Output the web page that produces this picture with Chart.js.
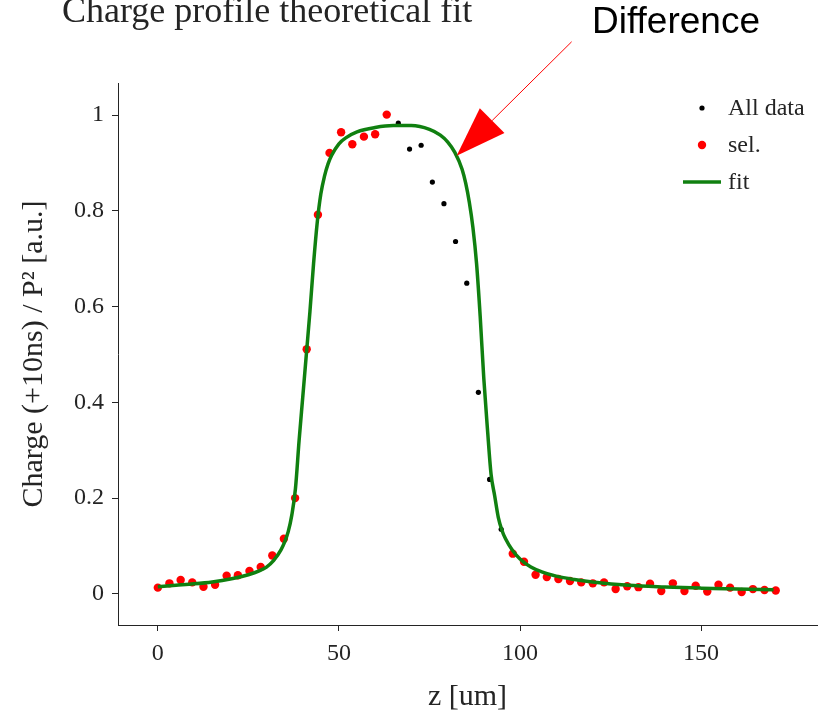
<!DOCTYPE html>
<html>
<head>
<meta charset="utf-8">
<script src="https://cdn.jsdelivr.net/npm/chart.js@4.4.1/dist/chart.umd.min.js"></script>
<style>
  html, body { margin: 0; padding: 0; background: #fff; }
  canvas { display: block; }
</style>
</head>
<body>
<canvas id="chart" width="827" height="715"></canvas>
<script>
// positions along z [um] of every measured point
const zAll = [0, 3.2, 6.3, 9.5, 12.6, 15.8, 19.0, 22.1, 25.3, 28.4, 31.6, 34.8, 37.9, 41.1,
  44.2, 47.4, 50.6, 53.7, 56.9, 60.0, 63.2, 66.4, 69.5, 72.7, 75.8, 79.0, 82.2, 85.3, 88.5,
  91.6, 94.8, 98.0, 101.1, 104.3, 107.4, 110.6, 113.8, 116.9, 120.1, 123.2, 126.4, 129.6,
  132.7, 135.9, 139.0, 142.2, 145.4, 148.5, 151.7, 154.8, 158.0, 161.2, 164.3, 167.5, 170.6];
// normalised charge of every measured point
const qAll = [0.013, 0.022, 0.029, 0.024, 0.015, 0.019, 0.038, 0.039, 0.048, 0.056, 0.080,
  0.115, 0.200, 0.511, 0.792, 0.921, 0.964, 0.939, 0.955, 0.960, 1.001, 0.983, 0.929, 0.937,
  0.860, 0.815, 0.736, 0.649, 0.421, 0.239, 0.135, 0.084, 0.067, 0.040, 0.035, 0.031, 0.027,
  0.024, 0.022, 0.024, 0.010, 0.016, 0.014, 0.021, 0.006, 0.022, 0.006, 0.017, 0.005, 0.019,
  0.013, 0.004, 0.010, 0.008, 0.007];
// points left out of the selection used for the fit
const excludedIdx = [21, 22, 23, 24, 25, 26, 27, 28, 29, 30];

// fitted curve
const fitZ = [0, 5, 10, 15, 20, 25, 28, 30, 32, 34, 35, 36, 37, 38, 39, 40, 41, 42, 43, 44,
  45, 46, 47, 48, 50, 52, 55, 60, 65, 70, 75, 78, 80, 82, 84, 85, 86, 87, 88, 89, 90, 91, 92,
  93, 94, 95, 96, 98, 100, 103, 106, 110, 115, 120, 130, 140, 150, 160, 170];
const fitQ = [0.015, 0.018, 0.021, 0.025, 0.031, 0.040, 0.048, 0.056, 0.070, 0.092, 0.108,
  0.130, 0.165, 0.220, 0.320, 0.410, 0.500, 0.590, 0.690, 0.775, 0.835, 0.872, 0.898, 0.916,
  0.940, 0.953, 0.965, 0.974, 0.978, 0.978, 0.970, 0.958, 0.944, 0.922, 0.887, 0.858, 0.818,
  0.765, 0.690, 0.580, 0.450, 0.345, 0.250, 0.205, 0.160, 0.133, 0.115, 0.090, 0.073, 0.056,
  0.046, 0.037, 0.030, 0.025, 0.018, 0.0145, 0.012, 0.010, 0.0085];

const xTicks = [0, 50, 100, 150];
const yTicks = [0, 0.2, 0.4, 0.6, 0.8, 1];

// where the "Difference" arrow points, in data units
const arrowTip = { z: 82.5, q: 0.915 };

const axisColor = '#242424';
const serif = "'Liberation Serif', 'Times New Roman', serif";

const allPts = zAll.map((z, i) => ({ x: z, y: qAll[i] }));
const selPts = allPts.filter((p, i) => !excludedIdx.includes(i));
const fitPts = fitZ.map((z, i) => ({ x: z, y: fitQ[i] }));

const decor = {
  id: 'decor',
  afterDraw(chart) {
    const ctx = chart.ctx;
    const xs = chart.scales.x, ys = chart.scales.y;
    ctx.save();

    // title, partly cut at the top like the original
    ctx.fillStyle = axisColor;
    ctx.font = '36px ' + serif;
    ctx.textAlign = 'left';
    ctx.textBaseline = 'alphabetic';
    ctx.fillText('Charge profile theoretical fit', 62, 22);

    // annotation
    ctx.fillStyle = '#000';
    ctx.font = "37px 'Liberation Sans', Arial, sans-serif";
    ctx.fillText('Difference', 592, 33);

    const tx = xs.getPixelForValue(arrowTip.z);
    const ty = ys.getPixelForValue(arrowTip.q);
    const sx = tx + 115, sy = ty - 114;
    const ang = Math.atan2(ty - sy, tx - sx);
    const headLen = 50, headHalf = 17.5;
    const bx = tx - headLen * Math.cos(ang), by = ty - headLen * Math.sin(ang);
    ctx.strokeStyle = 'red';
    ctx.lineWidth = 1;
    ctx.beginPath();
    ctx.moveTo(sx, sy);
    ctx.lineTo(bx, by);
    ctx.stroke();
    ctx.fillStyle = 'red';
    ctx.beginPath();
    ctx.moveTo(tx, ty);
    ctx.lineTo(bx + headHalf * Math.sin(ang), by - headHalf * Math.cos(ang));
    ctx.lineTo(bx - headHalf * Math.sin(ang), by + headHalf * Math.cos(ang));
    ctx.closePath();
    ctx.fill();

    // legend
    const ds = chart.data.datasets;
    const lx = 702, ly = 108, step = 37;
    ctx.font = '24px ' + serif;
    ctx.textBaseline = 'middle';
    ds.forEach((d, i) => {
      const y = ly + i * step;
      if (d.showLine) {
        ctx.strokeStyle = d.borderColor;
        ctx.lineWidth = d.borderWidth;
        ctx.beginPath();
        ctx.moveTo(lx - 19, y);
        ctx.lineTo(lx + 19, y);
        ctx.stroke();
      } else {
        ctx.fillStyle = d.backgroundColor;
        ctx.beginPath();
        ctx.arc(lx, y, d.pointRadius, 0, Math.PI * 2);
        ctx.fill();
      }
      ctx.fillStyle = axisColor;
      ctx.fillText(d.label, lx + 26, y + 1);
    });
    ctx.restore();
  }
};

new Chart(document.getElementById('chart'), {
  type: 'scatter',
  data: {
    datasets: [
      { label: 'All data', data: allPts, backgroundColor: '#000', borderWidth: 0,
        pointRadius: 2.6, order: 3 },
      { label: 'sel.', data: selPts, backgroundColor: 'red', borderWidth: 0,
        pointRadius: 4.2, order: 2 },
      { label: 'fit', data: fitPts, showLine: true, borderColor: '#108010', borderWidth: 3.5,
        pointRadius: 0, cubicInterpolationMode: 'monotone', order: 1 }
    ]
  },
  options: {
    responsive: false,
    animation: false,
    events: [],
    layout: { padding: { top: 83, right: 10, bottom: 0, left: 0 } },
    plugins: { legend: { display: false }, tooltip: { enabled: false } },
    scales: {
      x: {
        type: 'linear', min: -11, max: 182,
        afterBuildTicks: s => { s.ticks = xTicks.map(v => ({ value: v })); },
        afterFit: s => { s.height = 90; },
        grid: { drawOnChartArea: false, tickLength: 6, color: axisColor },
        border: { color: axisColor, width: 1 },
        ticks: { font: { family: serif, size: 24 }, color: axisColor, padding: 8, maxRotation: 0 },
        title: { display: true, text: 'z [um]', font: { family: serif, size: 30 }, color: axisColor,
          padding: { top: 0, bottom: 0 } }
      },
      y: {
        min: -0.065, max: 1.067,
        afterBuildTicks: s => { s.ticks = yTicks.map(v => ({ value: v })); },
        afterFit: s => { s.width = 118; },
        grid: { drawOnChartArea: false, tickLength: 6, color: axisColor },
        border: { color: axisColor, width: 1 },
        ticks: { font: { family: serif, size: 24 }, color: axisColor, padding: 8,
          callback: v => String(v) },
        title: { display: true, text: 'Charge (+10ns) / P² [a.u.]', font: { family: serif, size: 30 },
          color: axisColor, padding: { top: 16, bottom: 0 } }
      }
    }
  },
  plugins: [decor]
});
</script>
</body>
</html>
